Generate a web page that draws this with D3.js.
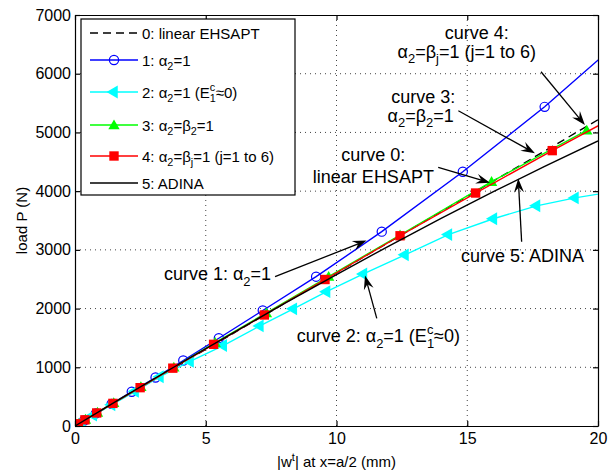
<!DOCTYPE html>
<html>
<head>
<meta charset="utf-8">
<script src="https://cdn.jsdelivr.net/npm/d3@7"></script>
<style>
  body { margin: 0; background: #fff; }
  text { font-family: "Liberation Sans", Arial, Helvetica, sans-serif; fill: #000; }
</style>
</head>
<body>
<div id="chart"></div>
<script>
// Values: |w| in mm, load P in N
var xLinear = [0, 20];
var pLinear = [0, 5215];

var xAlpha = [0, 0.35, 0.8, 1.4, 2.17, 3.08, 4.14, 5.5, 7.18, 9.22, 11.73, 14.83, 17.96, 21.1];
var pAlpha = [0, 94, 214, 376, 584, 826, 1115, 1494, 1967, 2543, 3310, 4331, 5436, 6660];

var xAlphaE0 = [0, 0.26, 0.7, 1.4, 2.3, 3.25, 4.4, 5.67, 7.07, 8.35, 9.62, 11.03, 12.62, 14.28, 16.0, 17.65, 19.12, 20.5];
var pAlphaE0 = [0, 70, 185, 360, 590, 840, 1100, 1370, 1705, 1995, 2288, 2590, 2915, 3260, 3530, 3750, 3885, 3985];

var xBeta2 = [0, 0.14, 0.4, 0.86, 1.48, 2.52, 3.78, 5.36, 7.32, 9.7, 12.43, 15.93, 19.57];
var pBeta2 = [0, 40, 112, 232, 395, 668, 1000, 1420, 1925, 2545, 3253, 4161, 5036];

var xBetaJ = [0, 0.13, 0.38, 0.83, 1.45, 2.49, 3.74, 5.3, 7.24, 9.56, 12.43, 15.32, 18.25, 21.2];
var pBetaJ = [0, 38, 105, 222, 385, 653, 985, 1391, 1891, 2495, 3240, 3968, 4690, 5400];

var xAdina = [0, 2, 4, 6, 8, 10, 12, 14, 16, 18, 20];
var pAdina = [0, 535, 1060, 1575, 2085, 2580, 3065, 3535, 3990, 4430, 4855];

var xTicks = [0, 5, 10, 15, 20];
var yTicks = [0, 1000, 2000, 3000, 4000, 5000, 6000, 7000];

var legendLabels = [
  [["0: linear EHSAPT"]],
  [["1: α"], ["2", "sub"], ["=1"]],
  [["2: α"], ["2", "sub"], ["=1 (E"], ["c", "sup"], ["1", "subback"], ["≈0)"]],
  [["3: α"], ["2", "sub"], ["=β"], ["2", "sub"], ["=1"]],
  [["4: α"], ["2", "sub"], ["=β"], ["j", "sub"], ["=1 (j=1 to 6)"]],
  [["5: ADINA"]]
];

// annotation text anchors and arrows, in data units
var notes = [
  { lines: [[["curve 4:"]], [["α"], ["2", "sub"], ["=β"], ["j", "sub"], ["=1 (j=1 to 6)"]]],
    at: [[15.36, 6585], [14.98, 6276]], from: [17.82, 6034], to: [19.50, 5126] },
  { lines: [[["curve 3:"]], [["α"], ["2", "sub"], ["=β"], ["2", "sub"], ["=1"]]],
    at: [[13.32, 5505], [13.22, 5186]], from: [14.66, 5370], to: [17.59, 4645] },
  { lines: [[["curve 0:"]], [["linear EHSAPT"]]],
    at: [[11.41, 4510], [11.41, 4139]], from: [13.89, 4406], to: [15.87, 4144] },
  { lines: [[["curve 1: α"], ["2", "sub"], ["=1"]]],
    at: [[5.45, 2487]], from: [7.65, 2543], to: [11.15, 3159] },
  { lines: [[["curve 2: α"], ["2", "sub"], ["=1 (E"], ["c", "sup"], ["1", "subback"], ["≈0)"]]],
    at: [[11.6, 1436]], from: [11.54, 1834], to: [11.09, 2563] },
  { lines: [[["curve 5: ADINA"]]],
    at: [[17.11, 2798]], from: [17.08, 3139], to: [16.95, 4215] }
];

var svgWidth = 608;
var svgHeight = 474;
var margin = { top: 15, right: 10, bottom: 48, left: 75 };
var width = svgWidth - margin.left - margin.right;
var height = svgHeight - margin.top - margin.bottom;

var svg = d3.select("#chart").append("svg")
  .attr("width", svgWidth)
  .attr("height", svgHeight);

var chartGroup = svg.append("g")
  .attr("transform", `translate(${margin.left}, ${margin.top})`);

var x = d3.scaleLinear().domain([0, 20]).range([0, width]);
var y = d3.scaleLinear().domain([0, 7000]).range([height, 0]);

// rich text with sub/superscripts
function richText(sel, parts, fs) {
  var t = sel.append("text").style("font-size", fs + "px");
  var shift = 0;
  parts.forEach(function(p) {
    var kind = p[1] || "";
    var target = 0, size = fs;
    var s = t.append("tspan").text(p[0]);
    if (kind === "sub") { target = fs * 0.33; size = fs * 0.72; }
    if (kind === "sup") { target = -fs * 0.42; size = fs * 0.72; }
    if (kind === "subback") {
      target = fs * 0.33; size = fs * 0.72;
      s.attr("dx", -fs * 0.72 * 0.5);
    }
    s.attr("dy", target - shift).style("font-size", size + "px");
    shift = target;
  });
  return t;
}

// grid
var grid = chartGroup.append("g");
grid.selectAll(".gx").data(xTicks.slice(1, -1)).enter().append("line")
  .attr("x1", d => x(d)).attr("x2", d => x(d))
  .attr("y1", 0).attr("y2", height);
grid.selectAll(".gy").data(yTicks.slice(1, -1)).enter().append("line")
  .attr("x1", 0).attr("x2", width)
  .attr("y1", d => y(d)).attr("y2", d => y(d));
grid.selectAll("line")
  .attr("stroke", "#444")
  .attr("stroke-width", 1)
  .attr("stroke-dasharray", "1,4");

// clip for the curves
svg.append("defs").append("clipPath").attr("id", "plotclip")
  .append("rect").attr("width", width).attr("height", height);

var curves = [
  { xs: xLinear, ps: pLinear, color: "#000", dash: "8,5", marker: null },
  { xs: xAlpha, ps: pAlpha, color: "#0000ff", marker: "circle" },
  { xs: xAlphaE0, ps: pAlphaE0, color: "#00ffff", marker: "left" },
  { xs: xBeta2, ps: pBeta2, color: "#00ff00", marker: "up" },
  { xs: xBetaJ, ps: pBetaJ, color: "#ff0000", marker: "square" },
  { xs: xAdina, ps: pAdina, color: "#000", marker: null }
];

function drawMarker(g, type, color, cx, cy) {
  if (type === "circle") {
    g.append("circle").attr("cx", cx).attr("cy", cy).attr("r", 4.6)
      .attr("fill", "none").attr("stroke", color).attr("stroke-width", 1.2);
  } else if (type === "left") {
    g.append("path").attr("d", d3.symbol(d3.symbolTriangle, 72)())
      .attr("transform", `translate(${cx},${cy}) rotate(-90)`)
      .attr("fill", color);
  } else if (type === "up") {
    g.append("path").attr("d", d3.symbol(d3.symbolTriangle, 56)())
      .attr("transform", `translate(${cx},${cy + 1})`)
      .attr("fill", color);
  } else if (type === "square") {
    g.append("path").attr("d", d3.symbol(d3.symbolSquare, 88)())
      .attr("transform", `translate(${cx},${cy})`)
      .attr("fill", color);
  }
}

var plotArea = chartGroup.append("g").attr("clip-path", "url(#plotclip)");
var line = d3.line().x(d => x(d[0])).y(d => y(d[1]));

curves.forEach(function(c) {
  var pts = c.xs.map((v, i) => [v, c.ps[i]]);
  var g = plotArea.append("g");
  g.append("path").datum(pts)
    .attr("d", line)
    .attr("fill", "none")
    .attr("stroke", c.color)
    .attr("stroke-width", 1.4)
    .attr("stroke-dasharray", c.dash || null);
  if (c.marker) {
    pts.filter(d => d[0] <= 20).forEach(function(d) {
      drawMarker(g, c.marker, c.color, x(d[0]), y(d[1]));
    });
  }
});

// axes, ticks inward on all four sides
chartGroup.append("g")
  .attr("transform", `translate(0, ${height})`)
  .call(d3.axisBottom(x).tickValues(xTicks).tickFormat(d3.format("d"))
    .tickSizeInner(-5).tickSizeOuter(0).tickPadding(7));
chartGroup.append("g")
  .call(d3.axisLeft(y).tickValues(yTicks).tickFormat(d3.format("d"))
    .tickSizeInner(-5).tickSizeOuter(0).tickPadding(4));
chartGroup.append("g")
  .call(d3.axisTop(x).tickValues(xTicks).tickSizeInner(-5).tickSizeOuter(0).tickFormat(""));
chartGroup.append("g")
  .attr("transform", `translate(${width}, 0)`)
  .call(d3.axisRight(y).tickValues(yTicks).tickSizeInner(-5).tickSizeOuter(0).tickFormat(""));

chartGroup.selectAll(".domain, .tick line").attr("stroke", "#000").attr("stroke-width", 1.2);
chartGroup.selectAll(".tick text")
  .style("font-size", "16px")
  .attr("font-family", null)
  .attr("fill", "#000");

// axis labels
var xLab = svg.append("text")
  .attr("x", margin.left + width / 2)
  .attr("y", 467)
  .attr("text-anchor", "middle")
  .style("font-size", "15px");
xLab.append("tspan").text("|w");
xLab.append("tspan").attr("dy", -6).style("font-size", "11px").text("t");
xLab.append("tspan").attr("dy", 6).text("| at x=a/2 (mm)");

svg.append("text")
  .attr("transform", `translate(27, ${margin.top + height / 2}) rotate(-90)`)
  .attr("text-anchor", "middle")
  .style("font-size", "15px")
  .text("load P (N)");

// legend
var legend = svg.append("g");
legend.append("rect")
  .attr("x", 81).attr("y", 19)
  .attr("width", 214).attr("height", 176)
  .attr("fill", "#fff").attr("stroke", "#000").attr("stroke-width", 1.2);

var rowY = [33, 60, 92, 125, 156, 183];
curves.forEach(function(c, i) {
  var ly = rowY[i];
  legend.append("line")
    .attr("x1", 90).attr("x2", 138)
    .attr("y1", ly).attr("y2", ly)
    .attr("stroke", c.color)
    .attr("stroke-width", 1.4)
    .attr("stroke-dasharray", c.dash || null);
  if (c.marker) drawMarker(legend, c.marker, c.color, 114, ly);
  richText(legend, legendLabels[i], 15)
    .attr("x", 142).attr("y", ly + 5.5);
});

// annotations with arrows
var notesGroup = svg.append("g")
  .attr("transform", `translate(${margin.left}, ${margin.top})`);

function arrow(g, from, to) {
  var x0 = x(from[0]), y0 = y(from[1]), x1 = x(to[0]), y1 = y(to[1]);
  var dx = x1 - x0, dy = y1 - y0, len = Math.sqrt(dx * dx + dy * dy);
  var ux = dx / len, uy = dy / len, nx = -uy, ny = ux;
  var L = 14, W = 5, notch = 9;
  var bx = x1 - ux * notch, by = y1 - uy * notch;
  g.append("line")
    .attr("x1", x0).attr("y1", y0).attr("x2", bx).attr("y2", by)
    .attr("stroke", "#000").attr("stroke-width", 1.3);
  var d = `M${x1},${y1} L${x1 - ux * L + nx * W},${y1 - uy * L + ny * W} L${bx},${by} L${x1 - ux * L - nx * W},${y1 - uy * L - ny * W} Z`;
  g.append("path").attr("d", d).attr("fill", "#000");
}

notes.forEach(function(n) {
  n.lines.forEach(function(parts, i) {
    richText(notesGroup, parts, 18)
      .attr("x", x(n.at[i][0]))
      .attr("y", y(n.at[i][1]))
      .attr("text-anchor", "middle");
  });
  arrow(notesGroup, n.from, n.to);
});
</script>
</body>
</html>
